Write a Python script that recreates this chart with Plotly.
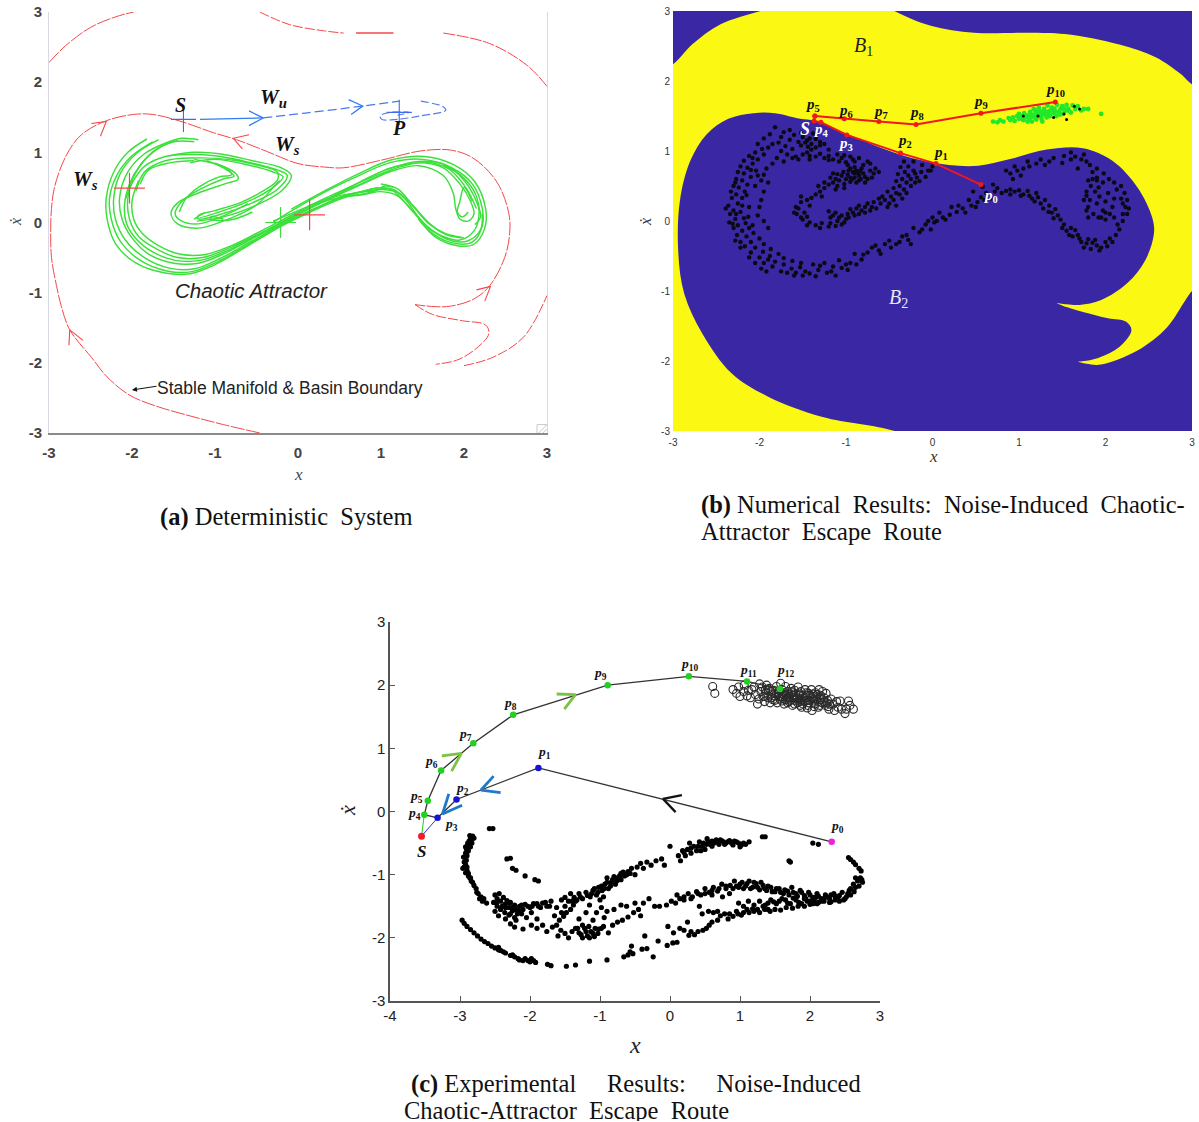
import plotly.graph_objects as go

W, H = 1199, 1122

# ---------- panel (a) ----------
red_main = [(-0.46,-3),(-0.9,-2.88),(-1.29,-2.76),(-1.7,-2.62),(-2.03,-2.46),(-2.3,-2.2),(-2.49,-1.92),(-2.75,-1.53),(-2.85,-1.2),(-2.91,-0.9),(-2.97,-0.5),(-2.98,-0.16),(-2.97,0.2),(-2.93,0.52),(-2.79,0.96),(-2.61,1.25),(-2.31,1.45),(-1.98,1.54),(-1.75,1.54),(-1.38,1.43),(-1.02,1.28),(-0.74,1.18),(-0.37,1.01),(0,0.84),(0.32,0.79),(0.55,0.78),(1.01,0.89),(1.48,1.02),(1.85,1.03),(2.12,0.91),(2.4,0.57),(2.54,0.13),(2.55,-0.16),(2.49,-0.5),(2.31,-0.9),(2.12,-1.09),(1.85,-1.19),(1.66,-1.2),(1.41,-1.17)]
red_main2 = [(1.41,-1.17),(1.62,-1.31),(1.98,-1.4),(2.26,-1.46),(2.3,-1.58),(2.21,-1.73),(1.94,-1.95),(1.66,-2.02)]
red_right = [(2.0,-2.04),(2.35,-1.92),(2.72,-1.63),(3,-1.04)]
red_top_left = [(-3,2.28),(-2.8,2.52),(-2.5,2.78),(-2.2,2.93),(-1.98,3)]
red_top_mid = [(-0.46,3),(-0.1,2.82),(0.32,2.73),(0.55,2.7)]
red_top_bar = [(0.7,2.7),(1.15,2.7)]
red_top_right = [(1.75,2.7),(2.31,2.55),(2.77,2.23),(3,1.94)]
red_heads = [[(-2.49,1.41),(-2.31,1.44),(-2.38,1.23)],[(-0.59,1.25),(-0.78,1.2),(-0.67,1.05)],[(2.15,-0.96),(2.32,-0.91),(2.25,-1.12)],[(-2.76,-1.75),(-2.75,-1.53),(-2.59,-1.68)]]
blue_curve_solid = [(-1.18,1.47),(-0.42,1.49)]
blue_curve_dash = [(-0.42,1.49),(0.09,1.56),(0.78,1.66),(1.22,1.73)]
blue_curve_loop = [(1.48,1.73),(1.75,1.65),(1.78,1.6),(1.48,1.52),(1.2,1.47),(1.01,1.47),(0.99,1.52),(1.11,1.57),(1.34,1.57),(1.2,1.53)]
blue_heads = [[(-0.59,1.59),(-0.42,1.49),(-0.59,1.38)],[(0.61,1.75),(0.78,1.66),(0.64,1.54)]]
red_crosses = [(-2.03,0.49),(0.14,0.11)]
green_crosses = [(-0.21,0.0)]
blue_crosses = [(-1.38,1.47),(1.22,1.57)]
resize_grip = [(2.9,-3.0),(3.0,-2.88),None,(2.95,-3.0),(3.0,-2.94),None,(2.88,-2.88),(2.88,-3.0),None,(2.88,-2.88),(3.0,-2.88)]

strands_a = [
 [(-1.82,1.19),(-2.05,1.0),(-2.22,.72),(-2.31,.35),(-2.3,.05),(-2.2,-.3),(-1.95,-.58),(-1.6,-.72),(-1.3,-.73),(-1.0,-.6),(-.6,-.33),(-.2,-.05),(.15,.15),(.55,.35),(.95,.49),(1.15,.47),(1.3,.32),(1.45,.08),(1.65,-.18),(1.9,-.3),(2.1,-.28),(2.22,-.05),(2.22,.2),(2.1,.55),(1.85,.78),(1.5,.9),(1.1,.85),(.7,.65),(.3,.42),(-.1,.15),(-.3,0)],
 [(-1.68,1.18),(-1.95,.98),(-2.14,.7),(-2.22,.35),(-2.2,.05),(-2.08,-.25),(-1.85,-.5),(-1.55,-.65),(-1.25,-.66),(-.95,-.52),(-.55,-.26),(-.15,0),(.2,.2),(.6,.4),(.95,.46)],
 [(-1.2,1.18),(-1.4,1.2),(-1.6,1.13),(-1.85,.98),(-2.05,.72),(-2.15,.35),(-2.12,.05),(-2.0,-.22),(-1.8,-.45),(-1.5,-.58),(-1.2,-.58),(-.9,-.45),(-.5,-.2),(-.1,.05),(.3,.3),(.75,.58),(1.1,.77),(1.45,.85),(1.75,.78),(1.95,.55),(2.08,.3),(2.12,.12),(2.05,.02),(1.95,.05),(1.9,.2),(1.87,.42),(1.75,.67),(1.45,.81),(1.1,.72),(.7,.52),(.3,.3),(-.05,.08)],
 [(-1.25,1.15),(-1.5,1.15),(-1.75,1.0),(-1.95,.72),(-2.05,.35),(-2.03,.05),(-1.92,-.2),(-1.7,-.38),(-1.45,-.5),(-1.15,-.5),(-.8,-.35),(-.4,-.12),(0,.13),(.4,.33),(.8,.4),(1.0,.44),(1.2,.38),(1.35,.2),(1.55,-.05),(1.75,-.2),(1.95,-.25),(2.12,-.12),(2.18,.1),(2.14,.4),(1.98,.65),(1.75,.82)],
 [(-2.08,.33),(-1.98,.6),(-1.85,.8),(-1.6,.94),(-1.3,.97),(-1.0,.95),(-.6,.86),(-.25,.75),(-.13,.67),(-.25,.47),(-.55,.28),(-.95,.11),(-1.2,.05),(-1.2,.1),(-1.0,.17),(-.7,.28),(-.42,.45),(-.25,.6),(-.25,.72),(-.5,.82),(-.85,.9),(-1.25,.92),(-1.6,.88),(-1.85,.72),(-1.95,.45)],
 [(-1.25,.9),(-.95,.82),(-.75,.7),(-.72,.62),(-.88,.55),(-1.2,.42),(-1.45,.28),(-1.53,.13),(-1.45,-.02),(-1.2,-.08),(-.9,.02),(-.5,.25),(-.3,.5),(-.22,.6)],
 [(-1.1,.88),(-.9,.78),(-.77,.66),(-.9,.62),(-1.2,.46),(-1.4,.3),(-1.48,.12),(-1.4,.02),(-1.2,-.02),(-.95,.07),(-.6,.27)],
 [(-1.0,.85),(-.85,.76),(-.8,.68),(-.95,.65),(-1.2,.5),(-1.35,.34),(-1.43,.15)],
 [(-.9,.05),(-1.05,.08),(-1.05,.05),(-.8,.04),(-.55,.15)],
 [(1.0,.55),(1.2,.48),(1.38,.25),(1.6,-.03),(1.8,-.18),(2.0,-.22)],
 [(1.05,.75),(1.45,.87),(1.78,.82),(2.0,.6),(2.15,.3),(2.2,.08),(2.13,-.03)],
 [(.5,.36),(.9,.44),(1.05,.52),(1.15,.5)],
 [(-1.75,1.15),(-2.0,.95),(-2.18,.68),(-2.27,.35),(-2.25,.05),(-2.14,-.27),(-1.9,-.54),(-1.58,-.69),(-1.28,-.7),(-.97,-.56),(-.58,-.3),(-.18,-.02),(.18,.18),(.58,.38),(.97,.5)],
 [(-1.45,1.17),(-1.7,1.05),(-1.9,.82),(-2.03,.55),(-2.09,.25),(-2.07,0),(-1.96,-.22),(-1.75,-.42),(-1.48,-.54),(-1.18,-.54),(-.85,-.4),(-.45,-.16),(-.05,.09),(.35,.32),(.78,.55),(1.12,.74)],
 [(-1.92,.6),(-2.0,.3),(-1.98,.05),(-1.88,-.15),(-1.68,-.33),(-1.43,-.45),(-1.13,-.46),(-.78,-.32),(-.38,-.08),(.02,.16),(.42,.36),(.82,.44),(1.02,.47),(1.22,.42),(1.38,.24),(1.58,-.02),(1.78,-.16),(1.97,-.21)],
 [(1.45,.05),(1.67,-.22),(1.92,-.33),(2.12,-.31),(2.25,-.08),(2.26,.2),(2.13,.58),(1.88,.82),(1.52,.94),(1.12,.89),(.72,.69),(.32,.45),(-.08,.19)],
 [(.85,.43),(1.1,.48),(1.28,.3),(1.43,.1),(1.62,-.12),(1.85,-.26),(2.05,-.26),(2.2,-.1),(2.22,.12)],
 [(-.3,.02),(.1,.22),(.5,.44),(.9,.65),(1.25,.8),(1.55,.86),(1.82,.76),(2.02,.5),(2.15,.2)],
 [(2.1,.3),(2.0,.5),(1.95,.3),(1.92,.15),(1.98,.08),(2.05,.15)],
 [(-1.3,.85),(-1.0,.9),(-.6,.82),(-.3,.72),(-.18,.65),(-.3,.5),(-.6,.3),(-1.0,.13),(-1.25,.05),(-1.12,.14)],
 [(-1.55,.95),(-1.25,1.0),(-.95,.98),(-.55,.88),(-.2,.78),(-.08,.67),(-.2,.45),(-.5,.25),(-.9,.08),(-1.22,.02)],
 [(-1.9,.55),(-1.8,.75),(-1.55,.85),(-1.25,.88)],
]

# ---------- panel (b) ----------
basin_yellow = [(-3.4,2.0),(-3,2.24),(-2.78,2.52),(-2.45,2.81),(-1.99,3.0),(-1.5,3.2),(-0.7,3.2),(-.44,3),(-.02,2.79),(.48,2.69),(1.11,2.69),(1.53,2.67),(2.16,2.52),(2.58,2.34),(2.87,2.1),(3,1.95),(3.4,1.6),(3.4,-.6),(3,-1.0),(2.92,-1.14),(2.71,-1.52),(2.37,-1.85),(1.95,-2.05),(1.78,-2.04),(1.68,-2.01),(1.68,-2.01),(1.82,-1.99),(1.95,-1.94),(2.16,-1.8),(2.3,-1.56),(2.24,-1.44),(2.03,-1.39),(1.74,-1.3),(1.55,-1.23),(1.43,-1.17),(1.43,-1.17),(1.55,-1.19),(1.7,-1.2),(1.95,-1.13),(2.25,-.89),(2.46,-.56),(2.56,-.18),(2.54,.05),(2.37,.48),(2.08,.86),(1.74,1.04),(1.32,1.02),(.91,.89),(.53,.79),(.19,.8),(-.14,.87),(-.56,1.03),(-.98,1.24),(-1.36,1.43),(-1.53,1.46),(-1.82,1.54),(-2.07,1.54),(-2.36,1.46),(-2.61,1.24),(-2.8,.86),(-2.92,.29),(-2.94,-.42),(-2.87,-1.04),(-2.66,-1.61),(-2.32,-2.18),(-1.9,-2.51),(-1.27,-2.8),(-.44,-3),(-.1,-3.2),(-3.4,-3.4)]
attractor_b = [(-1.82,1.34),(-1.72,1.27),(-1.88,1.24),(-1.95,1.18),(-1.78,1.12),(-2.02,1.1),(-1.9,1.05),(-2.05,.98),(-1.95,.95),(-2.12,.93),(-2.02,.88),(-2.18,.86),(-2.08,.82),(-2.14,.76),(-2.22,.78),(-2.04,.72),(-2.18,.68),(-2.25,.7),(-2.1,.63),(-2.2,.58),(-2.27,.6),(-2.14,.52),(-2.24,.48),(-2.3,.5),(-2.17,.42),(-2.27,.38),(-2.32,.33),(-2.2,.33),(-2.36,.22),(-2.25,.25),(-2.3,.15),(-2.22,.13),(-2.34,.1),(-2.28,.03),(-2.18,.04),(-2.35,-.02),(-2.25,-.06),(-2.16,-.03),(-2.3,-.1),(-2.2,-.14),(-2.12,-.1),(-2.26,-.2),(-2.15,-.22),(-2.07,-.17),(-2.22,-.3),(-2.1,-.3),(-2.0,-.25),(-2.22,-.38),(-2.05,-.38),(-1.95,-.33),(-2.1,-.45),(-1.96,-.44),(-1.87,-.4),(-2.0,-.52),(-1.88,-.5),(-1.78,-.47),(-1.95,-.6),(-1.82,-.58),(-1.72,-.53),(-1.85,-.65),(-1.72,-.62),(-1.62,-.57),(-1.75,-.72),(-1.63,-.68),(-1.52,-.6),(-1.58,-.74),(-1.47,-.72),(-1.38,-.62),(-1.42,-.75),(-1.32,-.7),(-1.25,-.6),(-1.22,-.74),(-1.15,-.65),(-1.08,-.56),(-1.05,-.67),(-.95,-.6),(-.9,-.47),(-.82,-.55),(-.75,-.45),(-.7,-.38),(-.62,-.42),(-.55,-.33),(-.5,-.28),(-.42,-.33),(-.35,-.22),(-.28,-.27),(-.22,-.1),(-.15,-.16),(-.08,-.05),(-.02,-.12),(.05,0),(.12,.05),(.08,.12),(.2,.09),(.28,.13),(.22,.2),(.35,.18),(.45,.22),(.42,.3),(.52,.27),(.6,.3),(.62,.4),(.7,.52),(.72,.42),(.8,.4),(.85,.43),
(.9,.38),(.95,.42),(1.0,.44),(1.05,.38),(1.1,.43),(1.15,.32),(1.2,.4),(1.25,.25),(1.3,.3),(1.28,.18),(1.35,.22),(1.38,.12),(1.42,.17),(1.4,.04),(1.48,.02),(1.52,-.05),(1.55,-.14),(1.6,-.1),(1.62,-.22),(1.68,-.2),(1.72,-.3),(1.75,-.38),(1.8,-.26),(1.85,-.31),(1.9,-.35),(1.95,-.38),(2.0,-.3),(2.05,-.25),(2.12,-.2),(2.16,-.12),(2.2,0),(2.2,.1),(2.23,.2),(2.25,.3),(2.22,.4),(2.18,.5),(2.1,.55),(2.04,.6),(1.98,.68),(1.9,.75),(1.85,.7),(1.78,.85),(1.72,.88),(1.65,.92),(1.6,.88),(1.5,.83),(1.35,.85),(1.3,.8),(1.2,.82),(1.12,.78),(1.05,.75),(.98,.72),(.9,.68),(.93,.6),(1.02,.65),
(1.75,.3),(1.8,.2),(1.78,.42),(1.83,.5),(1.86,.1),(1.9,.25),(1.93,.35),(1.97,.15),(2.0,.28),(2.03,.4),(2.05,.1),(2.08,.2),(2.1,.32),(1.85,.6),(1.8,.58),(1.92,.48),(2.0,.02),(1.95,.05),
(-1.5,1.2),(-1.42,1.18),(-1.35,1.17),(-1.55,1.13),(-1.47,1.12),(-1.4,1.1),(-1.3,1.13),(-1.52,1.08),(-1.44,1.06),(-1.35,1.05),(-1.25,1.1),(-1.65,1.16),(-1.7,1.07),(-1.62,1.03),(-1.75,1.0),(-1.68,.95),(-1.58,.92),(-1.5,.95),(-1.42,.93),(-1.45,.98),(-1.35,.92),(-1.3,.96),(-1.25,.9),(-1.2,.93),(-1.15,.88),(-1.1,.95),(-1.05,.9),(-1.0,.84),(-.95,.92),(-.9,.85),(-.85,.9),(-.8,.8),(-.75,.85),(-.72,.72),(-.68,.68),(-.66,.75),
(-1.8,.9),(-1.85,.82),(-1.92,.75),(-1.95,.66),(-1.98,.58),(-1.72,.85),(-1.9,.55),(-1.95,.42),(-1.98,.3),(-2.0,.2),(-2.02,.08),(-1.95,0),(-1.9,-.1),
(-.82,.75),(-.88,.72),(-.8,.68),(-.85,.65),(-.92,.7),(-.95,.75),(-.98,.66),(-.9,.62),(-.83,.6),(-.78,.63),(-1.0,.6),(-1.05,.65),(-1.08,.58),(-.95,.56),(-.88,.55),(-1.02,.53),(-1.12,.6),(-1.15,.55),(-1.18,.62),(-1.1,.5),(-1.2,.52),(-.93,.6),(-.86,.69),(-1.25,.47),(-1.3,.42),(-1.35,.38),(-1.4,.33),(-1.28,.35),(-1.45,.3),(-1.52,.27),(-1.42,.22),(-1.55,.18),(-1.48,.12),(-1.57,.1),(-1.45,.06),(-1.5,.02),(-1.42,-.02),(-1.35,-.06),(-1.28,-.03),(-1.2,-.08),(-1.12,-.07),(-1.05,-.05),(-1.1,0),(-1.18,.05),(-1.05,.08),(-1.0,.03),(-.98,.1),(-1.12,.12),(-1.2,.14),(-.92,.12),(-.88,.18),(-.95,.17),(-.82,.15),(-.78,.2),(-.85,.22),(-.7,.2),(-.68,.27),(-.6,.25),(-.55,.3),(-.5,.25),(-.58,.35),(-.48,.35),(-.42,.4),(-.52,.42),(-.45,.47),(-.38,.5),(-.42,.57),(-.35,.6),(-.4,.67),(-.32,.7),(-.37,.77),(-.28,.78),(-.33,.85),(-.22,.85),(-.18,.62),(-.13,.7),(-.2,.55),(-.25,.5),(-.15,.57),(0,.78),(-.02,.72),(.47,.42),(.58,.49)]
attractor_b_more = [(-2.33,.42),(-2.39,.18),(-2.31,-.04),(-2.27,.1),(-2.2,.22),(-2.12,.2),(-2.13,.06),(-2.08,-.06),(-2.28,-.28),(-2.17,-.36),(-2.12,-.52),(-2.05,-.6),(-1.98,-.68),(-1.9,-.55),(-1.92,-.72),(-1.68,-.74),(-1.6,-.78),(-1.53,-.66),(-1.5,-.78),(-1.35,-.79),(-1.3,-.64),(-1.17,-.72),(-1.12,-.78),(-1.0,-.62),(-.98,-.7),(-.88,-.62),(-.8,-.48),(-.66,-.35),(-.6,-.47),(-.48,-.38),(-.38,-.3),(-.3,-.2),(-.25,-.33),(-.12,-.12),(-.05,0),(0,.05),(.02,-.02),(.15,.02),(.3,.22),(.38,.12),(.5,.2),(.56,.34),(.68,.32),(.75,.47),(.9,.45),(1.02,.36),(1.12,.36),(1.18,.28),(1.22,.34),(1.34,.13),(1.45,.08),(1.5,-.1),(1.58,-.2),(1.65,-.13),(1.7,-.25),(1.78,-.32),(1.83,-.4),(1.88,-.27),(1.93,-.42),(2.02,-.36),(2.08,-.3),(2.14,-.05),(2.25,.1),(2.27,.18),(2.18,.32),(2.2,.25),(1.97,.55),(1.9,.62),(1.75,.95),(1.82,.8),(1.68,.75),(1.6,.98),(1.52,.93),(1.4,.9),(1.25,.88),(1.1,.85),(.95,.78),(.85,.72),(1.78,.36),(1.82,.3),(1.88,.42),(1.92,.05),(2.0,.12),(2.1,.05),(1.8,.05),(1.78,.15),(1.9,.58),(2.13,.45),
(-1.97,1.03),(-2.08,.9),(-2.1,.73),(-2.28,.55),(-2.15,.37),(-2.05,.5),(-2.02,.65),(-1.85,1.1),(-1.75,1.2),(-1.65,1.3),(-1.6,1.23),(-1.52,1.26),(-1.38,1.25),(-1.35,1.2),(-1.45,1.15),(-1.4,1.02),(-1.3,1.08),(-1.2,1.02),(-1.42,.88),(-1.55,.88),(-1.62,.9),(-1.2,.87),(-1.02,.94),(-1.08,.85),(-.92,.88),(-.98,.8),(-.9,.77),(-.72,.82),(-.62,.7),(-.75,.6),(-.7,.62),(-.78,.55),(-.85,.58),(-.97,.72),(-1.03,.7),(-1.1,.67),(-1.15,.68),(-1.12,.45),(-1.25,.55),(-1.32,.5),(-1.02,.47),(-.95,.62),(-.9,.68),(-.84,.71),
(-1.52,.35),(-1.58,.2),(-1.6,.12),(-1.52,.05),(-1.45,-.06),(-1.3,-.1),(-1.18,-.03),(-1.08,.05),(-1.15,.08),(-1.02,-.02),(-.97,.05),(-.9,.08),(-.85,.1),(-.78,.12),(-.72,.15),(-.75,.25),(-.65,.18),(-.62,.32),(-.52,.2),(-.45,.3),(-.42,.22),(-.38,.38),(-.35,.32),(-.33,.45),(-.3,.55),(-.25,.6),(-.28,.65),(-.22,.72),(-.2,.68),(-.12,.8),(-.08,.63),(-.3,.4),(-.05,.72)]
escape_green_b = [(.7,1.42),(.75,1.41),(.78,1.44),(.82,1.42),(.9,1.44),(.88,1.47),(.93,1.48),(.95,1.43),(1.0,1.46),(1.02,1.5),(1.0,1.53),(1.05,1.44),(1.07,1.48),(1.06,1.54),(1.1,1.5),(1.12,1.46),(1.13,1.56),(1.15,1.42),(1.16,1.52),(1.18,1.48),(1.19,1.58),(1.2,1.45),(1.22,1.54),(1.23,1.62),(1.25,1.5),(1.26,1.46),(1.28,1.56),(1.29,1.6),(1.3,1.52),(1.32,1.48),(1.33,1.65),(1.35,1.57),(1.36,1.5),(1.38,1.62),(1.4,1.54),(1.41,1.6),(1.43,1.5),(1.44,1.66),(1.46,1.56),(1.48,1.6),(1.5,1.53),(1.5,1.64),(1.53,1.57),(1.55,1.66),(1.57,1.6),(1.6,1.55),(1.62,1.65),(1.65,1.6),(1.68,1.64),(1.72,1.58),(1.75,1.6),(1.8,1.6),(1.95,1.53),(.98,1.5),(1.17,1.6),(1.27,1.42),(1.1,1.42),(1.04,1.47),(1.14,1.49),(1.21,1.5),(1.24,1.57),(1.31,1.56),(1.34,1.53),(1.37,1.58),(1.42,1.56),(1.47,1.52),(1.52,1.6),(1.58,1.57),(1.12,1.52),(1.2,1.55),(1.27,1.52)]
escape_black_b = [(1.22,1.5),(1.4,1.48),(1.52,1.53),(1.64,1.64),(1.55,1.45),(1.7,1.6),(1.05,1.5)]
path_b_lower = [(.56,.52),(.04,.82),(-.37,.97),(-.99,1.23),(-1.29,1.41),(-1.37,1.43),(-1.36,1.5)]
path_b_upper = [(-1.36,1.5),(-1.02,1.46),(-.62,1.42),(-.19,1.38),(.56,1.54),(1.42,1.7)]

# ---------- panel (c) ----------
attractor_c = [(-2.58,-.27),(-2.53,-.27),(-2.82,-.39),(-2.85,-.43),(-2.8,-.42),(-2.87,-.47),(-2.83,-.5),(-2.89,-.53),(-2.85,-.56),(-2.91,-.59),(-2.88,-.62),(-2.92,-.66),(-2.9,-.7),(-2.93,-.73),(-2.91,-.77),(-2.94,-.8),(-2.92,-.84),(-2.94,-.88),(-2.9,-.93),(-2.92,-.97),(-2.88,-1.02),(-2.84,-1.1),(-2.85,-1.05),(-2.8,-1.17),(-2.77,-1.22),(-2.74,-1.3),(-2.7,-1.35),(-2.66,-1.38),(-2.62,-1.45),
(-2.33,-.75),(-2.28,-.74),(-2.25,-.9),(-2.2,-.93),(-2.07,-1.02),(-1.93,-1.08),(-1.88,-1.1),
(-2.5,-1.32),(-2.47,-1.38),(-2.44,-1.3),(-2.52,-1.44),(-2.42,-1.42),(-2.38,-1.36),(-2.47,-1.5),(-2.36,-1.47),(-2.33,-1.41),(-2.42,-1.55),(-2.3,-1.52),(-2.28,-1.44),(-2.36,-1.6),(-2.25,-1.57),(-2.22,-1.48),(-2.3,-1.64),(-2.18,-1.62),(-2.15,-1.5),(-2.1,-1.55),(-2.07,-1.47),(-2.0,-1.52),(-1.95,-1.46),(-1.88,-1.5),(-1.82,-1.45),(-1.76,-1.5),(-1.7,-1.42),(-1.62,-1.52),(-1.55,-1.6),(-1.5,-1.5),(-1.45,-1.42),(-1.42,-1.3),(-1.37,-1.36),(-1.3,-1.3),(-1.25,-1.38),(-1.2,-1.28),(-1.14,-1.35),(-1.1,-1.25),(-1.05,-1.32),(-1.02,-1.2),(-.97,-1.25),(-.93,-1.15),(-.9,-1.05),(-.88,-1.22),(-.84,-1.12),(-.8,-1.03),(-.76,-1.1),(-.72,-1.02),(-.7,-.98),(-.65,-1.02),(-.6,-.95),(-.55,-.9),(-.5,-1.0),(-.47,-.88),(-.42,-.82),(-.38,-.9),(-.33,-.8),(-.27,-.85),(-.2,-.78),(-.12,-.75),(-.08,-.85),(0,-.55),(.12,-.7),(.15,-.78),(.18,-.62),(.22,-.7),(.28,-.5),(.3,-.66),(.34,-.55),(.38,-.62),(.42,-.48),(.46,-.55),(.5,-.6),(.53,-.43),(.57,-.52),(.6,-.47),(.66,-.45),(.7,-.52),(.75,-.47),(.8,-.5),(.85,-.46),(.9,-.53),(.95,-.48),(1.0,-.56),(1.05,-.5),(1.13,-.48),(1.32,-.4),(1.36,-.4),
(-2.97,-1.72),(-2.94,-1.77),(-2.9,-1.82),(-2.85,-1.87),(-2.8,-1.92),(-2.75,-1.97),(-2.7,-2.02),(-2.65,-2.06),(-2.6,-2.09),(-2.55,-2.13),(-2.5,-2.16),(-2.45,-2.19),(-2.38,-2.22),(-2.28,-2.28),(-2.22,-2.3),(-2.17,-2.33),(-2.1,-2.36),(-2.03,-2.36),(-1.98,-2.33),(-1.92,-2.39),(-1.75,-2.42),(-1.7,-2.44),(-1.48,-2.45),(-1.35,-2.43),(-1.15,-2.37),(-.9,-2.35),(-.66,-2.3),(-.6,-2.27),(-.57,-2.22),(-.55,-2.13),(-.53,-2.25),(-.4,-2.18),(-.33,-2.17),(-.36,-1.97),(-.24,-2.3),(-.17,-2.05),(-.04,-2.12),(.04,-2.08),(.1,-2.07),(-.03,-1.82),(.05,-1.92),(.14,-1.85),(.2,-1.88),(.27,-1.96),(.3,-1.9),(.35,-1.95),(.4,-1.9),(.47,-1.88),(.52,-1.85),(.56,-1.8),(.62,-1.6),(.46,-1.62),(.68,-1.58),(.78,-1.62),(.83,-1.7),(.9,-1.66),(.97,-1.62),(1.05,-1.6),(1.13,-1.6),(1.2,-1.58),(1.28,-1.6),(1.35,-1.55),(1.43,-1.58),(1.5,-1.55),(1.58,-1.56),(1.66,-1.52),(1.75,-1.53),(1.83,-1.5),(1.92,-1.5),(2.0,-1.47),(2.1,-1.46),(2.2,-1.42),(2.3,-1.43),(2.42,-1.42),(2.5,-1.38),
(-2.28,-1.78),(-2.22,-1.83),(-2.1,-1.86),(-1.98,-1.8),(-1.9,-1.85),(-1.82,-1.8),(-1.76,-1.9),(-1.68,-1.83),(-1.6,-1.97),(-1.56,-1.88),(-1.5,-1.93),(-1.45,-2.0),(-1.4,-1.9),(-1.32,-1.85),(-1.27,-1.95),(-1.22,-1.85),(-1.18,-1.97),(-1.13,-1.9),(-1.08,-1.98),(-1.02,-1.86),(-.95,-1.82),(-.88,-1.92),(-.82,-1.8),(-.75,-1.75),(-.68,-1.72),(-.6,-1.67),(-.52,-1.6),(-.45,-1.55),(-.38,-1.45),(-.3,-1.38),(-.22,-1.5),(-.15,-1.5),(-.05,-1.48),(.02,-1.42),(.08,-1.45),(.14,-1.38),(.2,-1.4),(.26,-1.3),(.32,-1.35),(.38,-1.27),(.44,-1.32),(.5,-1.22),(.56,-1.28),(.62,-1.2),(.68,-1.26),(.74,-1.15),(.8,-1.22),(.86,-1.17),(.92,-1.1),(.98,-1.2),(1.03,-1.12),(1.08,-1.18),(1.13,-1.1),(1.18,-1.2),(1.23,-1.14),(1.28,-1.24),(1.33,-1.17),(1.38,-1.25),(1.44,-1.2),(1.5,-1.27),(1.56,-1.22),(1.62,-1.3),(1.68,-1.26),(1.74,-1.2),(1.8,-1.3),(1.86,-1.25),(1.92,-1.33),(1.98,-1.28),(2.04,-1.36),(2.1,-1.3),(2.16,-1.38),(2.22,-1.32),(2.28,-1.38),(2.34,-1.3),(2.4,-1.37),(2.46,-1.28),(2.52,-1.35),(2.56,-1.25),
(.98,-1.45),(1.05,-1.5),(1.12,-1.42),(1.2,-1.48),(1.28,-1.42),(1.36,-1.48),(1.44,-1.4),(1.52,-1.46),(1.6,-1.38),(1.68,-1.45),(1.76,-1.37),(1.84,-1.44),(1.92,-1.38),(2.0,-1.42),(2.08,-1.36),(2.16,-1.42),(.95,-1.18),(.85,-1.3),(.75,-1.35),(.6,-1.32),(1.7,-.78),(1.72,-.8),
(2.55,-.73),(2.58,-.76),(2.62,-.8),(2.65,-.84),(2.7,-.9),(2.73,-.94),(2.65,-1.05),(2.68,-1.1),(2.72,-1.05),(2.75,-1.12),(2.7,-1.18),(2.65,-1.2),(2.62,-1.15),(2.74,-1.08),(2.63,-1.27),(2.58,-1.22),(2.12,-.52),(2.04,-.5),
(-1.62,-1.8),(-1.58,-1.72),(-1.52,-1.66),(-1.48,-1.6),(-1.42,-1.55),(-1.38,-1.48),(-1.35,-1.42),(-1.72,-1.5),(-1.1,-1.72),(-1.05,-1.6),(-.98,-1.52),(-.94,-1.68),(-.9,-1.58),(-.8,-1.55),(-.7,-1.48),(-.62,-1.5),(-.5,-1.45),(-.42,-1.65),(-1.9,-1.7),(-2.05,-1.68),(-2.2,-1.72),(-1.98,-1.6),(-1.65,-1.65),(-1.3,-1.7),(-1.2,-1.6),(-1.15,-1.48),(-1.0,-1.4),(-.95,-1.35),(.42,-1.5),(.25,-1.75)]
attractor_c_more = [(-2.86,-.38),(-2.83,-.44),(-2.89,-.5),(-2.92,-.56),(-2.9,-.64),(-2.95,-.72),(-2.93,-.8),(-2.96,-.9),(-2.9,-.88),(-2.88,-.98),(-2.86,-1.05),(-2.82,-1.12),(-2.76,-1.28),(-2.72,-1.38),(-2.68,-1.42),
(-2.48,-1.45),(-2.4,-1.5),(-2.35,-1.52),(-2.3,-1.45),(-2.26,-1.52),(-2.2,-1.55),(-2.16,-1.57),(-2.12,-1.48),(-2.03,-1.5),(-1.97,-1.5),(-1.9,-1.46),(-1.85,-1.52),(-1.78,-1.44),(-2.28,-1.62),(-2.22,-1.68),(-2.12,-1.62),(-2.35,-1.7),(-2.45,-1.65),(-2.5,-1.58),
(-1.55,-1.4),(-1.5,-1.36),(-1.4,-1.42),(-1.33,-1.4),(-1.28,-1.35),(-1.18,-1.33),(-1.12,-1.3),(-1.08,-1.22),(-1.03,-1.28),(-.98,-1.18),(-.94,-1.22),(-.9,-1.12),(-.85,-1.18),(-.82,-1.08),(-.78,-1.15),(-.75,-1.05),(-.7,-1.08),(-.67,-.96),(-.62,-1.0),(-.57,-.98),
(.2,-.65),(.25,-.6),(.3,-.58),(.4,-.55),(.44,-.62),(.48,-.5),(.52,-.52),(.55,-.48),(.6,-.55),(.63,-.5),(.68,-.48),(.72,-.45),(.78,-.52),(.82,-.48),(.88,-.5),(.92,-.47),(.98,-.5),(1.02,-.53),(1.08,-.52),
(-1.35,-1.85),(-1.3,-1.92),(-1.25,-1.8),(-1.2,-1.9),(-1.16,-1.82),(-1.1,-1.93),(-1.07,-1.85),(-1.03,-1.93),(-.98,-1.85),(-1.15,-2.0),(-1.25,-2.0),
(1.0,-1.15),(1.05,-1.22),(1.1,-1.14),(1.15,-1.22),(1.2,-1.12),(1.25,-1.2),(1.3,-1.12),(1.35,-1.22),(1.4,-1.18),(1.46,-1.27),(1.52,-1.22),(1.58,-1.28),(1.64,-1.24),(1.7,-1.32),(1.76,-1.28),(1.82,-1.34),(1.88,-1.28),(1.94,-1.38),(2.0,-1.32),(2.06,-1.4),(2.12,-1.34),(2.18,-1.4),(2.24,-1.35),(2.3,-1.32),(2.36,-1.4),(2.42,-1.33),(2.48,-1.4),(2.54,-1.3),(2.58,-1.32),
(1.65,-1.4),(1.72,-1.46),(1.8,-1.4),(1.88,-1.46),(1.96,-1.42),(2.04,-1.46),(2.12,-1.44),(2.2,-1.38),(2.28,-1.44),(2.36,-1.34),(1.4,-1.45),(1.48,-1.43),(1.56,-1.42),
(.1,-1.32),(.2,-1.35),(.3,-1.38),(.4,-1.3),(.5,-1.3),(.6,-1.25),(.7,-1.22),(.8,-1.18),(.9,-1.22),
(.55,-1.58),(.6,-1.75),(.68,-1.72),(.72,-1.65),(.85,-1.62),(.95,-1.58),(1.02,-1.64),(1.1,-1.55),(1.18,-1.54),(1.25,-1.55),(1.33,-1.5),(1.4,-1.55),
(-2.45,-2.15),(-2.42,-2.2),(-2.35,-2.24),(-2.25,-2.27),(-2.15,-2.35),(-2.07,-2.33),(-2.0,-2.38),(-1.95,-2.36)]
cloud_c = [(.61,1.98),(.64,1.87),(.9,1.93),(.95,1.87),(.98,1.97),(1.0,1.82),(1.05,1.9),(1.06,2.0),(1.1,1.83),(1.12,1.92),(1.15,1.8),(1.17,1.93),(1.2,1.97),(1.22,1.85),(1.25,1.7),(1.27,1.78),(1.28,2.02),(1.3,1.9),(1.32,1.97),(1.33,1.82),(1.35,1.74),(1.37,1.88),(1.38,2.0),(1.4,1.8),(1.42,1.95),(1.43,1.72),(1.45,1.86),(1.47,1.77),(1.48,1.92),(1.5,1.83),(1.52,1.98),(1.53,1.72),(1.55,1.88),(1.57,1.78),(1.58,2.03),(1.6,1.93),(1.62,1.85),(1.63,1.7),(1.65,1.98),(1.67,1.8),(1.68,1.9),(1.7,1.74),(1.72,1.86),(1.73,1.95),(1.75,1.68),(1.77,1.8),(1.78,1.92),(1.8,1.85),(1.82,1.72),(1.83,1.97),(1.85,1.78),(1.87,1.9),(1.88,1.65),(1.9,1.83),(1.92,1.74),(1.93,1.93),(1.95,1.8),(1.97,1.68),(1.98,1.87),(2.0,1.76),(2.02,1.93),(2.03,1.6),(2.05,1.82),(2.07,1.7),(2.08,1.88),(2.1,1.78),(2.12,1.65),(2.13,1.93),(2.15,1.84),(2.17,1.72),(2.18,1.9),(2.2,1.8),(2.22,1.68),(2.23,1.87),(2.25,1.76),(2.27,1.62),(2.3,1.78),(2.33,1.7),(2.35,1.6),(2.38,1.74),(2.4,1.65),(2.43,1.75),(2.45,1.62),(2.5,1.55),(2.52,1.62),(2.55,1.75),(2.57,1.68),(2.62,1.62),(1.4,1.93),(1.5,1.76),(1.6,1.75),(1.7,1.82),(1.75,1.88),(1.8,1.78),(1.85,1.84),(1.9,1.7),(1.95,1.88),(2.0,1.84),(2.05,1.75),(2.1,1.85),(2.15,1.77),(2.2,1.74),(1.55,1.82),(1.65,1.77),(1.45,1.8),(1.35,1.82),(1.6,1.86),(1.72,1.76),(1.78,1.7),(1.88,1.76),(1.98,1.72),(2.08,1.8),(2.28,1.7),
(1.36,1.92),(1.44,1.9),(1.52,1.86),(1.58,1.82),(1.64,1.88),(1.7,1.8),(1.76,1.84),(1.82,1.8),(1.86,1.74),(1.92,1.8),(1.96,1.76),(2.02,1.8),(2.06,1.78),(2.12,1.74),(2.16,1.8),(2.24,1.72),(1.56,1.92),(1.66,1.84),(1.74,1.9),(1.84,1.88),(1.94,1.84),(2.04,1.86),(1.62,1.78),(1.68,1.72),(1.78,1.76),(1.86,1.68),(1.96,1.64),(2.06,1.66),(2.14,1.68),(2.26,1.66)]
path_c_in = [(2.31,-.48),(-1.88,.69),(-3.05,.19),(-3.32,-.1)]
path_c_out = [(-3.32,-.1),(-3.51,-.05),(-3.46,.17),(-3.27,.65),(-2.81,1.08),(-2.24,1.53),(-.89,2.0),(.27,2.14),(1.1,2.06),(1.57,1.94)]
link_blue = [(-3.55,-.39),(-3.32,-.1)]
link_green = [(-3.55,-.39),(-3.51,-.05)]
blue_pts_c = [(-1.88,.69),(-3.05,.19),(-3.32,-.1)]
green_pts_c = [(-3.51,-.05),(-3.46,.17),(-3.27,.65),(-2.81,1.08),(-2.24,1.53),(-.89,2.0),(.27,2.14),(1.1,2.06),(1.57,1.94)]
saddle_c = [(-3.55,-.39)]
start_c = [(2.31,-.48)]
head_black_c = [(.17,.26),(-.1,.2),(.08,-.01)]
heads_green_c = [[(-1.62,1.86),(-1.35,1.85),(-1.51,1.62)],[(-3.26,.88),(-2.98,.92),(-3.12,.64)]]
heads_blue_c = [[(-2.52,.56),(-2.7,.34),(-2.42,.3)],[(-3.16,.28),(-3.25,-.04),(-2.97,.1)]]

ticks_6 = [-3, -2, -1, 0, 1, 2, 3]
ticks_7 = [-4, -3, -2, -1, 0, 1, 2, 3]
labels_6 = ['-3', '-2', '-1', '0', '1', '2', '3']
labels_7 = ['-4', '-3', '-2', '-1', '0', '1', '2', '3']

fig = go.Figure()

def xs(p): return [q[0] if q else None for q in p]
def ys(p): return [q[1] if q else None for q in p]

def line(p, sub, color, width=1.0, dash=None, shape='linear', smooth=None):
    l = dict(color=color, width=width, shape=shape)
    if dash: l['dash'] = dash
    if smooth: l['smoothing'] = smooth
    fig.add_trace(go.Scatter(x=xs(p), y=ys(p), mode='lines', line=l, xaxis='x'+sub, yaxis='y'+sub,
                             showlegend=False, hoverinfo='skip'))

def dots(p, sub, color, size, symbol='circle', lw=0):
    fig.add_trace(go.Scatter(x=xs(p), y=ys(p), mode='markers',
                             marker=dict(color=color, size=size, symbol=symbol, line=dict(width=lw, color=color)),
                             xaxis='x'+sub, yaxis='y'+sub, showlegend=False, hoverinfo='skip'))

# panel a
RED = '#f4474a'
GREEN = '#3be03b'
BLUE = '#3b6cf0'
for s in strands_a:
    line(s, '', GREEN, 1.45, None, 'spline', 1.0)
for s, d in ((red_main, '14px,1.5px'), (red_main2, '10px,2px'), (red_right, '10px,2px'), (red_top_left, '14px,1.5px'), (red_top_mid, '10px,2px'), (red_top_right, '12px,1.5px')):
    line(s, '', RED, 1.0, d, 'spline', 1.0)
line(red_top_bar, '', RED, 1.6)
for h in red_heads:
    line(h, '', RED, 1.1)
line(blue_curve_solid, '', '#2f7cf5', 1.3)
line(blue_curve_dash, '', '#4a78f0', 1.3, '9px,4px', 'spline', 1.0)
line(blue_curve_loop, '', '#5a78ee', 1.1, '8px,3px', 'spline', 1.0)
for h in blue_heads:
    line(h, '', '#2f7cf5', 1.3)
line(resize_grip, '', '#c8c8c8', 1)
dots(red_crosses, '', RED, 22, 'cross-thin-open', 1.2)
dots(green_crosses, '', GREEN, 22, 'cross-thin-open', 1.1)
dots(blue_crosses, '', BLUE, 18, 'cross-thin-open', 1.1)

# panel b
NAVY = '#3a27a3'
YELLOW = '#fbf914'
fig.add_trace(go.Scatter(x=xs(basin_yellow), y=ys(basin_yellow), mode='lines', fill='toself', fillcolor=YELLOW,
                         line=dict(color=YELLOW, width=0, shape='spline', smoothing=1.0), xaxis='x2', yaxis='y2',
                         showlegend=False, hoverinfo='skip'))
dots(attractor_b + attractor_b_more, '2', '#0a0a14', 4.4)
dots(escape_green_b, '2', '#22e82a', 4.8)
dots(escape_black_b, '2', '#000000', 3)
line(path_b_lower, '2', '#f01818', 2)
line(path_b_upper, '2', '#f01818', 2)
dots(path_b_lower + path_b_upper, '2', '#f01818', 5)

# panel c
dots(attractor_c + attractor_c_more, '3', '#000000', 5.2)
dots(cloud_c, '3', '#2a2a2a', 8, 'circle-open', 1.1)
line(link_blue, '3', '#3030e0', 1)
line(link_green, '3', '#22cc22', 1)
line(path_c_in, '3', '#333333', 1.3)
line(path_c_out, '3', '#333333', 1.3)
line(head_black_c, '3', '#111111', 2.2)
for h in heads_green_c:
    line(h, '3', '#7cc243', 2.8)
for h in heads_blue_c:
    line(h, '3', '#1f78c8', 2.8)
dots(blue_pts_c, '3', '#1414d8', 6.5)
dots(green_pts_c, '3', '#22d022', 6.5)
dots(saddle_c, '3', '#f01c2c', 7)
dots(start_c, '3', '#ee22dd', 6.5)

def dom(p0, p1, total, flip=False):
    return [1 - p1 / total, 1 - p0 / total] if flip else [p0 / total, p1 / total]

TICK_A = dict(family='Liberation Sans', size=15, color='#444444', weight=700)
TICK_B = dict(family='Liberation Sans', size=10, color='#333333')
TICK_C = dict(family='Liberation Sans', size=15, color='#222222')

common = dict(showgrid=False, zeroline=False, automargin=False, tickmode='array')
layout_axes = dict(
    xaxis=dict(domain=dom(49, 547, W), range=[-3, 3], tickvals=ticks_6, ticktext=labels_6, anchor='y', ticklabelstandoff=5,
               showline=True, linecolor='#8a8a8a', linewidth=1.5, tickfont=TICK_A, ticks='', mirror=False, **common),
    yaxis=dict(domain=dom(12, 433, H, True), range=[-3, 3], tickvals=ticks_6, ticktext=labels_6, anchor='x', ticklabelstandoff=3,
               showline=True, linecolor='#d8d8e4', linewidth=1, tickfont=TICK_A, ticks='', mirror=True, **common),
    xaxis2=dict(domain=dom(673, 1192, W), range=[-3, 3], tickvals=ticks_6, ticktext=labels_6, anchor='y2', ticklabelstandoff=4,
                showline=False, tickfont=TICK_B, ticks='', **common),
    yaxis2=dict(domain=dom(11, 431, H, True), range=[-3, 3], tickvals=ticks_6, ticktext=labels_6, anchor='x2', ticklabelstandoff=2,
                showline=False, tickfont=TICK_B, ticks='', **common),
    xaxis3=dict(domain=dom(390, 880, W), range=[-4, 3], tickvals=ticks_7, ticktext=labels_7, anchor='y3',
                showline=True, linecolor='#555555', linewidth=1.5,
                tickfont=TICK_C, ticks='inside', ticklen=5, tickcolor='#555555', **common),
    yaxis3=dict(domain=dom(622, 1001, H, True), range=[-3, 3], tickvals=ticks_6, ticktext=labels_6, anchor='x3',
                showline=True, linecolor='#555555', linewidth=1.5, tickfont=TICK_C, ticks='inside', ticklen=5,
                tickcolor='#555555', **common),
)

SERIF = 'Liberation Serif'
SANS = 'Liberation Sans'
anns = []
def ann(px, py, text, size=14, family=SERIF, color='#111111', anchor='center', angle=0, **kw):
    anns.append(dict(x=px / W, y=1 - py / H, xref='paper', yref='paper', text=text, showarrow=False,
                     font=dict(family=family, size=size, color=color), xanchor=anchor, yanchor='middle',
                     textangle=angle, **kw))

def P(n):
    return f'<b><i>p</i><sub>{n}</sub></b>'

# panel a labels
ann(180, 105, '<b><i>S</i></b>', 20)
ann(273, 98, '<b><i>W<sub>u</sub></i></b>', 21)
ann(287, 145, '<b><i>W<sub>s</sub></i></b>', 21)
ann(85, 180, '<b><i>W<sub>s</sub></i></b>', 21)
ann(399, 128, '<b><i>P</i></b>', 20)
ann(251, 290, '<i>Chaotic Attractor</i>', 20.5, SANS, '#222222')
ann(290, 388, 'Stable Manifold &amp; Basin Boundary', 17.5, SANS, '#222222')
anns.append(dict(x=132 / W, y=1 - 390 / H, ax=26, ay=-4, xref='paper', yref='paper', axref='pixel',
                 ayref='pixel', text='', showarrow=True, arrowhead=2, arrowsize=1, arrowwidth=1, arrowcolor='#111111'))
ann(298, 474, '<i>x</i>', 17, color='#444444')
ann(15, 222, '<i>ẋ</i>', 16, color='#444444', angle=-90)

# panel b labels
ann(863, 46, '<i>B</i><sub>1</sub>', 20, color='#222222')
ann(898, 298, '<i>B</i><sub>2</sub>', 20, color='#e8e8f4')
for n, px, py, col in ((5, 813, 105, '#111111'), (6, 845, 111, '#111111'), (7, 880, 112, '#111111'), (8, 916, 113, '#111111'),
                       (9, 980, 102, '#111111'), (10, 1055, 90, '#111111'), (1, 941, 153, '#111111'), (2, 904, 141, '#111111'),
                       (3, 845, 144, '#ffffff'), (4, 821, 130, '#ffffff'), (0, 990, 196, '#ffffff')):
    ann(px, py, P(n), 15, color=col)
ann(805, 129, '<b><i>S</i></b>', 18, color='#ffffff')
ann(933, 456, '<i>x</i>', 17, color='#333333')
ann(645, 222, '<i>ẋ</i>', 16, color='#333333', angle=-90)

# panel c labels
for n, px, py in ((0, 837, 826), (1, 544, 752), (2, 462, 788), (3, 451, 824), (4, 414, 813), (5, 416, 796), (6, 431, 761),
                  (7, 466, 734), (8, 510, 703), (9, 600, 673), (10, 689, 664), (11, 748, 670), (12, 785, 670)):
    ann(px, py, P(n), 13.5)
ann(422, 851, '<b><i>S</i></b>', 17)
ann(635, 1045, '<i>x</i>', 24, color='#222222')
ann(347, 810, '<i>ẋ</i>', 22, color='#222222', angle=-90)

# captions
CAP = 24.5
ann(158, 517, '<b>(a)</b> Deterministic&nbsp; System', CAP, anchor='left')
ann(699, 505, '<b>(b)</b> Numerical&nbsp;&nbsp;Results:&nbsp;&nbsp;Noise-Induced&nbsp;&nbsp;Chaotic-', CAP, anchor='left')
ann(699, 531, 'Attractor&nbsp; Escape&nbsp; Route', CAP, anchor='left')
ann(409, 1084, '<b>(c)</b> Experimental&nbsp;&nbsp;&nbsp;&nbsp;&nbsp;Results:&nbsp;&nbsp;&nbsp;&nbsp;&nbsp;Noise-Induced', CAP, anchor='left')
ann(403, 1110, 'Chaotic-Attractor&nbsp; Escape&nbsp; Route', CAP, anchor='left', height=22, borderpad=0)

shapes = [dict(type='rect', xref='x2', yref='y2', x0=-3, x1=3, y0=-3, y1=3, fillcolor=NAVY, line=dict(width=0), layer='below')]

fig.update_layout(width=W, height=H, margin=dict(l=0, r=0, t=0, b=0, pad=0), paper_bgcolor='white', plot_bgcolor='white',
                  showlegend=False, annotations=anns, shapes=shapes, **layout_axes)

fig.write_html('out.html', config=dict(displayModeBar=False),
               post_script="document.body.style.margin='0';document.documentElement.style.overflow='hidden';")
